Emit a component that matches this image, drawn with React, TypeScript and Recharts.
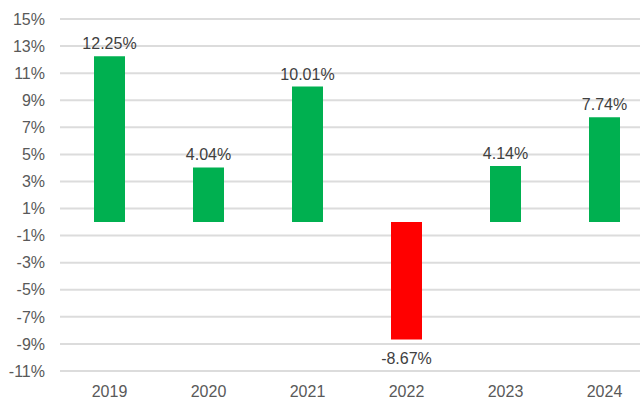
import { Bar, BarChart, CartesianGrid, Cell, XAxis, YAxis } from 'recharts';

const years = ['2019', '2020', '2021', '2022', '2023', '2024'];
const returns = [12.25, 4.04, 10.01, -8.67, 4.14, 7.74];
const yTicks = [-11, -9, -7, -5, -3, -1, 1, 3, 5, 7, 9, 11, 13, 15];

const data = years.map((year, i) => ({ year, value: returns[i] }));

const FONT = '"Liberation Sans", Arial, sans-serif';

function ValueLabel(props: any) {
  const { x, y, width, height, value } = props;
  if (typeof x !== 'number' || typeof y !== 'number') return null;
  const top = Math.min(y, y + height);
  const bottom = Math.max(y, y + height);
  const cx = x + width / 2;
  const ty = value >= 0 ? top - 7 : bottom + 25;
  return (
    <text x={cx} y={ty} textAnchor="middle" fill="#404040" fontSize={16} fontFamily={FONT}>
      {value.toFixed(2)}%
    </text>
  );
}

export default function App() {
  return (
    <div style={{ position: 'absolute', left: 0, top: 0, width: 640, height: 401, overflow: 'hidden', background: '#fff' }}>
      <BarChart
        width={654}
        height={401}
        data={data}
        margin={{ top: 19, right: 0, bottom: 1, left: 0 }}
        barCategoryGap={34}
      >
        <CartesianGrid vertical={false} stroke="#dcdcdc" strokeWidth={2} />
        <XAxis
          dataKey="year"
          axisLine={false}
          tickLine={false}
          tickSize={0}
          tickMargin={15}
          height={29}
          tick={{ fill: '#595959', fontSize: 16, fontFamily: FONT }}
        />
        <YAxis
          type="number"
          domain={[-11, 15]}
          ticks={yTicks}
          interval={0}
          axisLine={false}
          tickLine={false}
          tickSize={0}
          tickMargin={15}
          width={60}
          tickFormatter={(v: number) => `${v}%`}
          tick={{ fill: '#595959', fontSize: 16, fontFamily: FONT }}
        />
        <Bar dataKey="value" isAnimationActive={false} label={<ValueLabel />}>
          {data.map((d) => (
            <Cell key={d.year} fill={d.value >= 0 ? '#00b050' : '#ff0000'} />
          ))}
        </Bar>
      </BarChart>
    </div>
  );
}
